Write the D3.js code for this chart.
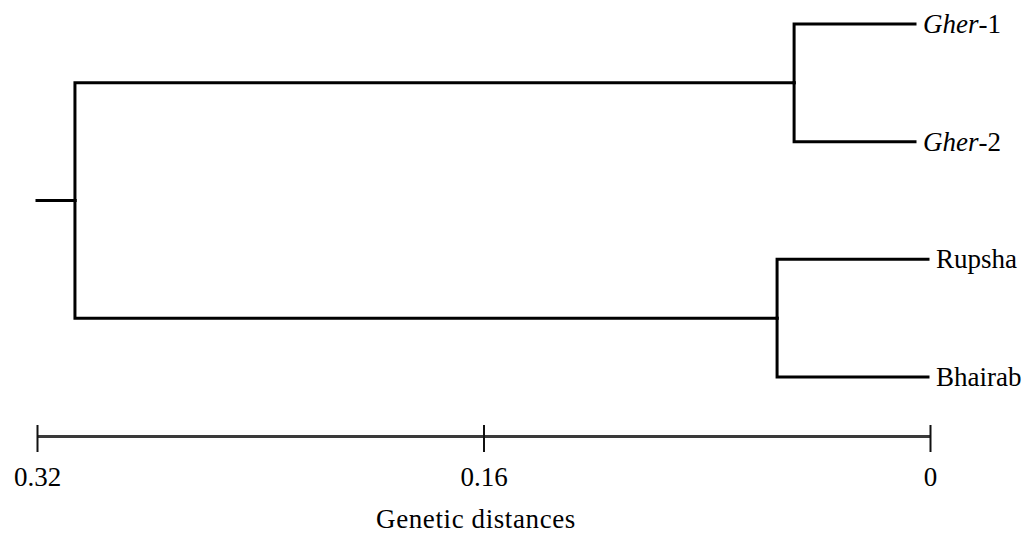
<!DOCTYPE html>
<html>
<head>
<meta charset="utf-8">
<script src="https://cdn.jsdelivr.net/npm/d3@7"></script>
<style>
  body { margin: 0; background: #fff; }
</style>
</head>
<body>
<div id="chart"></div>
<script>
// leaves, top to bottom
const leafNames = ["Gher-1", "Gher-2", "Rupsha", "Bhairab"];
const italicPart = ["Gher", "Gher", null, null];
// merge heights (genetic distance) for the two pairs and the root
const pairHeights = [0.0487, 0.0548];
const rootHeight = 0.3064;
const stemStart = 0.32;
const tickValues = [0.32, 0.16, 0];

const width = 1022, height = 534;
const serif = "'Liberation Serif', 'Times New Roman', 'DejaVu Serif', serif";

const svg = d3.select("#chart").append("svg")
  .attr("width", width)
  .attr("height", height)
  .style("font-family", serif);

// build the tree from the arrays
const treeData = {
  h: rootHeight,
  children: pairHeights.map((h, i) => ({
    h: h,
    children: leafNames.slice(i * 2, i * 2 + 2).map((n, j) => ({
      name: n, italic: italicPart[i * 2 + j], h: 0
    }))
  }))
};
const root = d3.hierarchy(treeData);

const x = d3.scaleLinear().domain([0.32, 0]).range([37, 930]);
const y = d3.scalePoint().domain(leafNames).range([24, 377]);

// leaf y from scale, internal nodes at the middle of their children
root.eachAfter(d => {
  if (!d.children) d.y = y(d.data.name);
  else d.y = d3.mean(d.children, c => c.y);
});

function leafEnd(d) {
  return d.data.italic ? x(0) - 15 : x(0) - 2;
}

const tree = svg.append("g")
  .attr("fill", "none")
  .attr("stroke", "#000")
  .attr("stroke-width", 3)
  .attr("stroke-linecap", "square");

tree.selectAll("path.link")
  .data(root.links())
  .enter().append("path")
  .attr("class", "link")
  .attr("d", l => {
    const x1 = x(l.source.data.h);
    const x2 = l.target.children ? x(l.target.data.h) : leafEnd(l.target);
    return "M" + x1 + "," + l.source.y + "V" + l.target.y + "H" + x2;
  });

// root stem
tree.append("path")
  .attr("d", "M" + x(stemStart) + "," + root.y + "H" + x(root.data.h));

// leaf labels
const labels = svg.append("g").selectAll("text")
  .data(root.leaves())
  .enter().append("text")
  .attr("x", d => leafEnd(d) + 8)
  .attr("y", d => d.y)
  .attr("dy", "0.33em")
  .attr("font-family", serif)
  .attr("font-size", 27)
  .attr("fill", "#000");

labels.each(function (d) {
  const t = d3.select(this);
  if (d.data.italic) {
    t.append("tspan").attr("font-style", "italic").text(d.data.italic);
    t.append("tspan").text(d.data.name.slice(d.data.italic.length));
  } else {
    t.text(d.data.name);
  }
});

// scale bar
const axisG = svg.append("g")
  .attr("transform", "translate(0,436)")
  .call(d3.axisBottom(x).tickValues(tickValues).tickSizeOuter(0).tickSizeInner(0)
    .tickFormat(d => d === 0 ? "0" : d3.format(".2f")(d)))
  .attr("font-family", serif)
  .attr("font-size", 27);

axisG.select(".domain")
  .attr("stroke", "#3a3a3a")
  .attr("stroke-width", 3);

axisG.selectAll(".tick line")
  .attr("y1", -11)
  .attr("y2", 16)
  .attr("stroke", "#111")
  .attr("stroke-width", 2);

axisG.selectAll(".tick text")
  .attr("y", 50)
  .attr("dy", 0)
  .attr("fill", "#000");

svg.append("text")
  .attr("x", 476)
  .attr("y", 528)
  .attr("text-anchor", "middle")
  .attr("font-family", serif)
  .attr("font-size", 27)
  .attr("letter-spacing", 0.6)
  .attr("fill", "#000")
  .text("Genetic distances");
</script>
</body>
</html>
